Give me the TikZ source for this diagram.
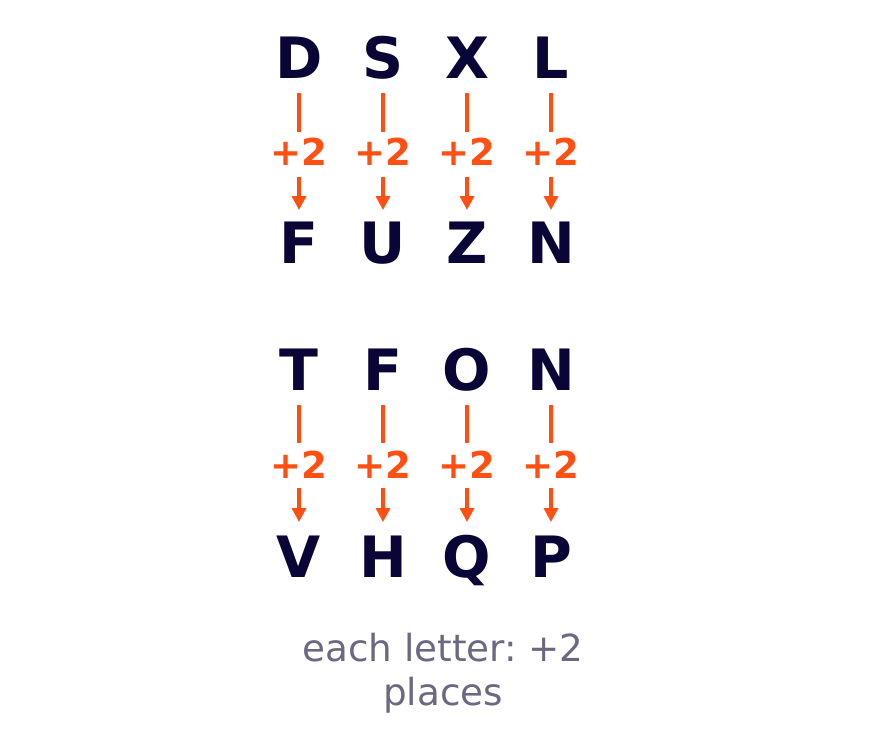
\documentclass[tikz,border=0pt]{standalone}
\usepackage{fontspec}
\setmainfont{DejaVu Sans}
\usetikzlibrary{arrows.meta}
\frenchspacing
\definecolor{navy}{HTML}{0A0537}
\definecolor{orng}{HTML}{FF5014}
\definecolor{capgray}{HTML}{6B6882}
\tikzset{
  letter/.style={anchor=base, inner sep=0pt, text=navy, font=\fontsize{57}{60}\selectfont\bfseries},
  plus/.style={anchor=base, inner sep=0pt, text=orng, font=\fontsize{37}{40}\selectfont\bfseries},
  stem/.style={draw=orng, line width=3.3pt},
  arr/.style={draw=orng, line width=3.3pt, -{Triangle[length=14pt,width=14pt]}},
  captext/.style={anchor=base, inner sep=0pt, text=capgray, font=\fontsize{37.3}{44}\selectfont}
}
\begin{document}
\begin{tikzpicture}[x=1pt,y=-1pt]
\useasboundingbox (0,0) rectangle (888,753);
\foreach \i/\x/\a/\b/\c/\d in {1/299/D/F/T/V, 2/383/S/U/F/H, 3/467/X/Z/O/Q, 4/551/L/N/N/P}{
  % row 1
  \node[letter] (t1\i) at (\x,78) {\a};
  \node[plus] (p1\i) at (\x,165) {+2};
  \node[letter] (b1\i) at (\x,263) {\b};
  \coordinate (s1\i) at (\x,93);
  \coordinate (e1\i) at (\x,132);
  \coordinate (as1\i) at (\x,177);
  \coordinate (ae1\i) at (\x,210);
  \draw[stem] (s1\i) -- (e1\i);
  \draw[arr] (as1\i) -- (ae1\i);
  % row 2
  \node[letter] (t2\i) at (\x,390) {\c};
  \node[plus] (p2\i) at (\x,478) {+2};
  \node[letter] (b2\i) at (\x,577) {\d};
  \coordinate (s2\i) at (\x,405);
  \coordinate (e2\i) at (\x,443);
  \coordinate (as2\i) at (\x,488);
  \coordinate (ae2\i) at (\x,522);
  \draw[stem] (s2\i) -- (e2\i);
  \draw[arr] (as2\i) -- (ae2\i);
}
\node[captext] (cap1) at (443,661) {each letter: +2};
\node[captext] (cap2) at (443,705) {places};
\end{tikzpicture}
\end{document}
